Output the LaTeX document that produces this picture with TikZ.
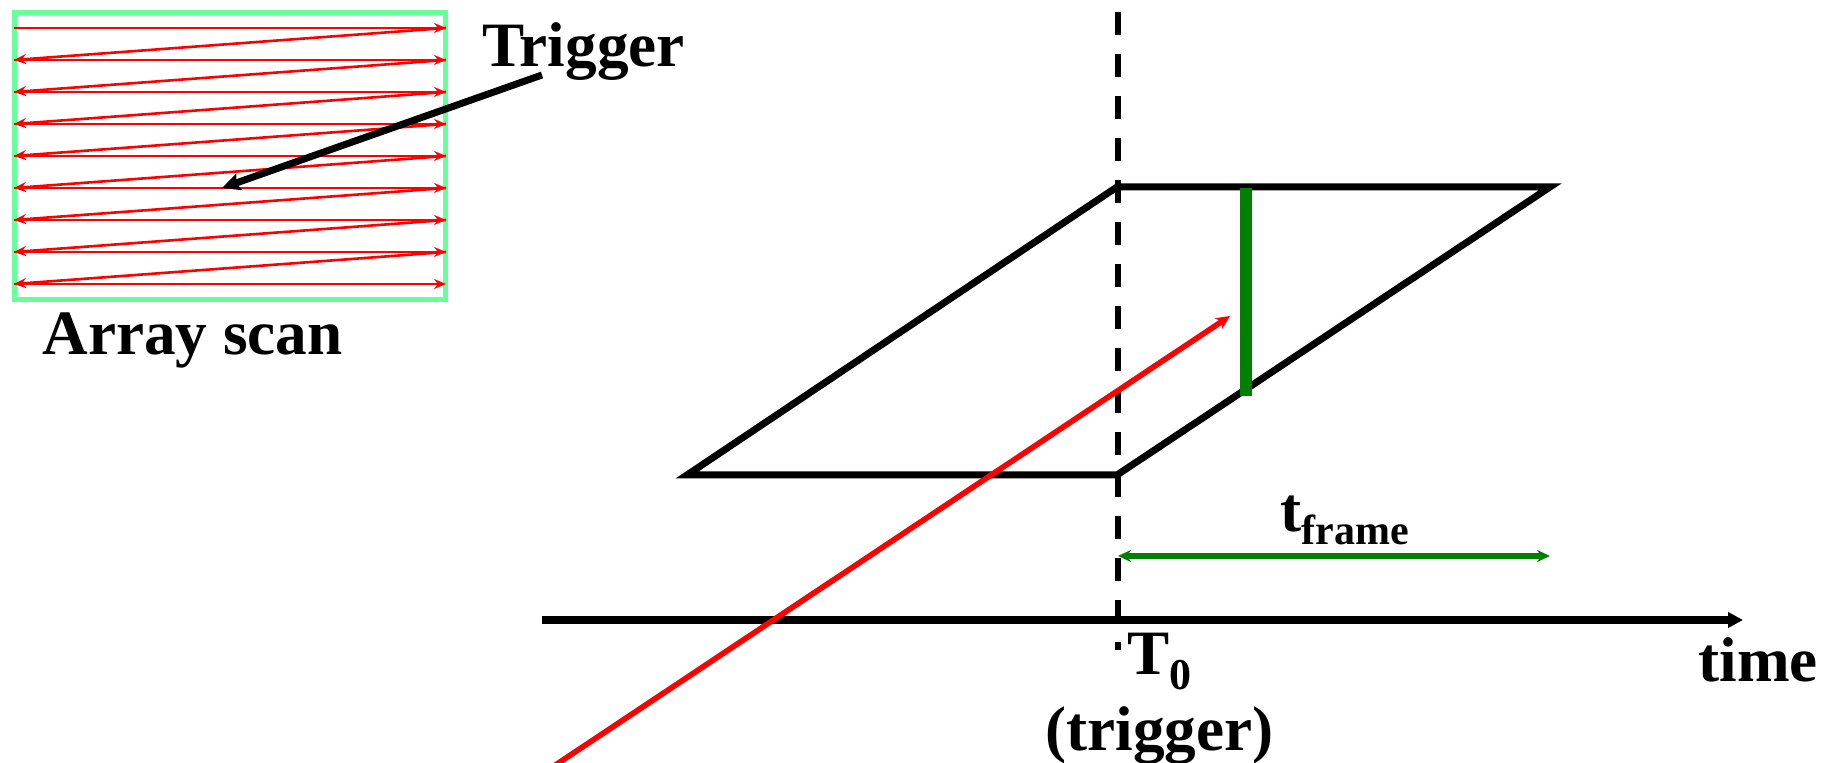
\documentclass[tikz,border=0pt]{standalone}
\usepackage{fontspec}
\setmainfont{Liberation Serif}
\usetikzlibrary{arrows.meta}
\definecolor{boxgreen}{RGB}{102,255,153}
\definecolor{dkgreen}{RGB}{0,128,0}
\begin{document}
\begin{tikzpicture}[x=0.5pt,y=-0.5pt,
  lbl/.style={font=\fontsize{31.6}{36}\selectfont\bfseries, inner sep=0pt, anchor=base west},
  scan/.style={draw=red, line width=1.3pt, -{Stealth[length=6pt,width=5pt]}},
  frameline/.style={draw=black, line width=3.5pt},
  axis/.style={draw=black, line width=4pt, -{Triangle[length=7.5pt,width=7.5pt]}},
  trigarrow/.style={draw=black, line width=3.5pt, -{Stealth[length=9pt,width=8.5pt,inset=1.5pt]}},
  ray/.style={draw=red, line width=2.8pt, -{Stealth[length=7pt,width=6.5pt]}},
  dim/.style={draw=dkgreen, line width=2.8pt, {Stealth[length=6.5pt,width=6pt]}-{Stealth[length=6.5pt,width=6pt]}},
  tline/.style={draw=black, line width=3pt, dash pattern=on 11.5pt off 9.5pt}
]
\useasboundingbox (0,0) rectangle (1825,763);

% array scan box
\coordinate (boxA) at (14.5,12.5);
\coordinate (boxB) at (445.5,299.5);
\draw[boxgreen, line width=2.5pt] (boxA) rectangle (boxB);
\foreach \i in {0,...,8} {
  \coordinate (L\i) at (14,28+32*\i);
  \coordinate (R\i) at (446,28+32*\i);
}
\foreach \i in {0,...,8} \draw[scan] (L\i) -- (R\i);
\foreach \i [evaluate=\i as \j using int(\i+1)] in {0,...,7} \draw[scan] (R\i) -- (L\j);

\node[lbl] (arr) at (42,355) {Array scan};
\node[lbl] (trg) at (482,67) {Trigger};
\coordinate (trgS) at (542,75);
\coordinate (trgE) at (222,188);
\draw[trigarrow] (trgS) -- (trgE);

% parallelogram
\coordinate (PBL) at (687,475);
\coordinate (PTL) at (1117,187);
\coordinate (PTR) at (1550,187);
\coordinate (PBR) at (1117,475);
\draw[frameline] (PBL) -- (PTL) -- (PTR) -- (PBR) -- cycle;

% green readout line
\coordinate (GT) at (1246,188);
\coordinate (GB) at (1246,396);
\draw[dkgreen, line width=6pt] (GT) -- (GB);

% dashed trigger line
\coordinate (DT) at (1118,12);
\coordinate (DB) at (1118,650);
\draw[tline] (DT) -- (DB);

% time axis
\coordinate (AX0) at (542,620);
\coordinate (AX1) at (1743,620);
\draw[axis] (AX0) -- (AX1);

% t_frame
\coordinate (F0) at (1118,556);
\coordinate (F1) at (1550,556);
\draw[dim] (F0) -- (F1);
\node[lbl] (tf) at (1280,532) {t\raisebox{-6.5pt}{\fontsize{21}{21}\selectfont frame}};

% red particle track
\coordinate (RS) at (554,766);
\coordinate (RE) at (1230,316);
\draw[ray] (RS) -- (RE);

% labels
\node[lbl] (t0) at (1127,675) {T\raisebox{-7.5pt}{\fontsize{22}{22}\selectfont 0}};
\node[lbl] (trg2) at (1045,750) {(trigger)};
\node[lbl] (time) at (1698,682) {time};
\end{tikzpicture}
\end{document}
